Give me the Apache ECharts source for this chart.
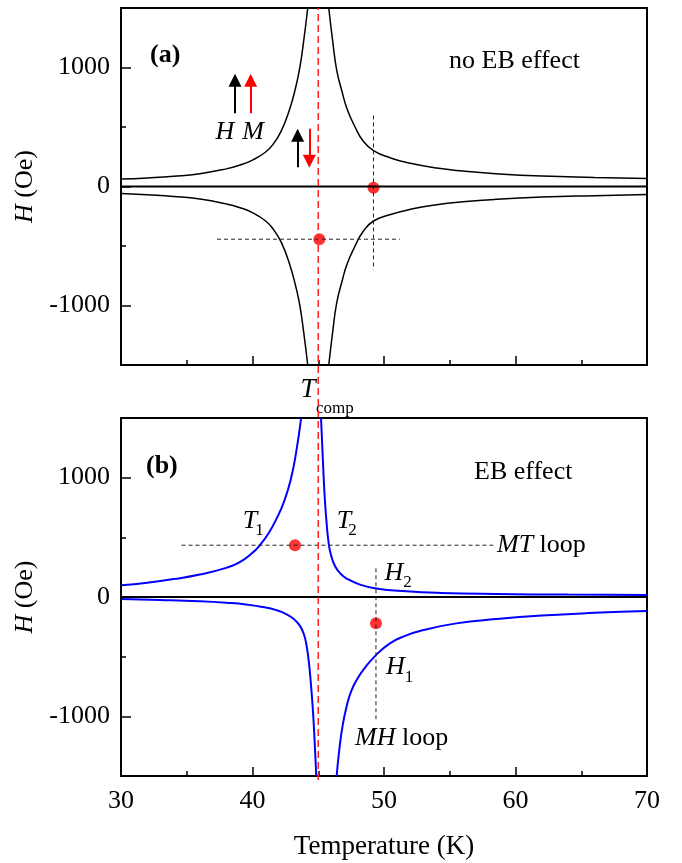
<!DOCTYPE html>
<html>
<head>
<meta charset="utf-8">
<script src="https://cdn.jsdelivr.net/npm/echarts@6/dist/echarts.min.js"></script>
<style>
  html, body { margin: 0; padding: 0; background: #fff; }
  #chart { width: 682px; height: 863px; }
</style>
</head>
<body>
<div id="chart"></div>
<script>
const xTicks = [30, 40, 50, 60, 70]
const yTicks = [-1000, 0, 1000]
const yMinorTicks = [-500, 500]
const tComp = 45

// (a) no EB effect, black curves [T, H]
const upperLeftA = [[30, 62], [32, 72], [34, 86], [36, 108], [38, 148], [39, 178], [40, 222], [41, 290], [41.6, 360], [42.2, 470], [42.8, 640], [43.3, 840], [43.6, 1000], [43.9, 1230], [44.2, 1500]]
const upperRightA = [[45.8, 1500], [46.1, 1220], [46.4, 980], [46.8, 800], [47.2, 650], [47.8, 500], [48.4, 385], [49.2, 302], [50.5, 240], [52, 195], [54, 155], [56, 130], [58.5, 108], [62, 88], [66, 76], [70, 67]]
const lowerLeftA = [[30, -58], [32, -70], [34, -84], [36, -106], [38, -146], [39, -176], [40, -220], [41, -290], [41.6, -362], [42.2, -472], [42.8, -645], [43.3, -845], [43.6, -1000], [43.9, -1230], [44.2, -1500]]
const lowerRightA = [[45.8, -1500], [46.1, -1220], [46.4, -980], [46.8, -800], [47.2, -650], [47.8, -500], [48.4, -380], [49.2, -290], [50.5, -235], [52, -192], [54, -154], [56, -129], [58.5, -108], [62, -89], [66, -77], [70, -68]]
const dotsA = [[49.2, -10], [45.08, -443]]
const vDashA = [[49.2, 597], [49.2, -700]]
const hDashA = [[37.3, -443], [51.2, -443]]
const blackArrowsA = [[38.67, 616, 947], [43.43, 162, 485]]
const redArrowsA = [[39.86, 616, 947], [44.32, 485, 157]]

// (b) EB effect, blue curves [T, H]
const upperLeftB = [[30, 98], [32, 120], [34, 150], [36, 188], [38, 244], [39, 290], [40, 370], [40.6, 440], [41.2, 530], [41.8, 650], [42.4, 800], [42.9, 980], [43.3, 1200], [43.7, 1500]]
const upperRightB = [[45.21, 1500], [45.3, 1280], [45.4, 1030], [45.5, 820], [45.62, 640], [45.77, 470], [45.95, 360], [46.27, 260], [46.7, 195], [47.16, 155], [48.17, 104], [49.39, 72], [51.7, 48], [54.3, 34], [58.5, 25], [64, 20], [70, 17]]
const lowerLeftB = [[30, -17], [33, -25], [36, -36], [38, -48], [39.5, -62], [40.8, -84], [41.8, -110], [42.6, -145], [43.2, -190], [43.6, -240], [43.9, -310], [44.1, -400], [44.3, -560], [44.45, -740], [44.6, -960], [44.72, -1200], [44.85, -1500]]
const lowerRightB = [[46.4, -1500], [46.6, -1280], [46.85, -1080], [47.15, -920], [47.5, -790], [48, -680], [48.5, -600], [49.39, -487], [50.45, -389], [51.5, -330], [53, -277], [55.5, -221], [58.5, -185], [62, -155], [66, -133], [70, -118]]
const dotsB = [[43.23, 434], [49.39, -221]]
const hDashB = [[34.6, 434], [58.3, 434]]
const vDashB = [[49.39, 241], [49.39, -1048]]

const zeroLine = [[30, 0], [70, 0]]
const compLine = [[tComp, 0], [tComp, 1]]

const font = '"Liberation Serif", "Times New Roman", serif'
const chart = echarts.init(document.getElementById('chart'))

const grids = [
  { left: 121, top: 8, width: 526, height: 357 },
  { left: 121, top: 418, width: 526, height: 358 },
  { left: 121, top: 8, width: 526, height: 772 }
]

const frameLine = { onZero: false, lineStyle: { color: '#000', width: 2 } }
const plain = v => String(v)

const makeX = (gi, showLabels) => ([
  {
    type: 'value', gridIndex: gi, min: 30, max: 70, interval: 10, position: 'bottom',
    axisLine: frameLine,
    axisTick: { inside: true, length: 9, lineStyle: { color: '#000', width: 1.5 } },
    minorTick: { show: true, splitNumber: 2, length: 5, lineStyle: { color: '#000', width: 1.5 } },
    axisLabel: { show: showLabels, margin: 12, fontSize: 26, fontFamily: font, color: '#000', customValues: xTicks, formatter: plain },
    splitLine: { show: false },
    name: showLabels ? 'Temperature (K)' : '',
    nameLocation: 'middle', nameGap: 57,
    nameTextStyle: { fontSize: 27, fontFamily: font, color: '#000' }
  },
  {
    type: 'value', gridIndex: gi, min: 30, max: 70, position: 'top',
    axisLine: frameLine, axisTick: { show: false }, axisLabel: { show: false }, splitLine: { show: false }
  }
])

const makeY = (gi) => ([
  {
    type: 'value', gridIndex: gi, min: -1500, max: 1500, interval: 500, position: 'left',
    axisLine: frameLine,
    axisTick: { inside: true, length: 10, customValues: yTicks, lineStyle: { color: '#000', width: 1.5 } },
    axisLabel: { margin: 11, fontSize: 26, fontFamily: font, color: '#000', customValues: yTicks, formatter: plain },
    splitLine: { show: false },
    name: '{i|H} (Oe)', nameLocation: 'middle', nameGap: 70,
    nameTextStyle: {
      fontSize: 26, fontFamily: font, color: '#000',
      rich: { i: { fontStyle: 'italic', fontSize: 26, fontFamily: font, color: '#000' } }
    }
  },
  {
    type: 'value', gridIndex: gi, min: -1500, max: 1500, position: 'right',
    axisLine: frameLine, axisTick: { show: false }, axisLabel: { show: false }, splitLine: { show: false }
  },
  {
    type: 'value', gridIndex: gi, min: -1500, max: 1500, interval: 500, position: 'left',
    axisLine: { show: false, onZero: false },
    axisTick: { inside: true, length: 5, customValues: yMinorTicks, lineStyle: { color: '#000', width: 1.5 } },
    axisLabel: { show: false }, splitLine: { show: false }
  }
])

const curve = (data, xi, yi, color, width) => ({
  type: 'line', data, xAxisIndex: xi, yAxisIndex: yi,
  showSymbol: false, symbol: 'none', smooth: 0.5, silent: true,
  lineStyle: { color, width }
})

const dashed = (data, xi, yi) => ({
  type: 'line', data, xAxisIndex: xi, yAxisIndex: yi,
  showSymbol: false, symbol: 'none', silent: true,
  lineStyle: { color: '#222', width: 1, type: [4, 3] }
})

const dots = (data, xi, yi) => ({
  type: 'scatter', data, xAxisIndex: xi, yAxisIndex: yi,
  symbol: 'circle', symbolSize: 12, silent: true,
  itemStyle: { color: '#ff0000' }
})

// arrow head sits centred on the end point, so pull the line end back half a head
const headSize = 13
const headBack = headSize / 2 * 3000 / 357
const arrowPairs = (list, color) => list.map(([t, from, to]) => {
  const dir = to > from ? 1 : -1
  return [
    { coord: [t, from], lineStyle: { color, width: 2 } },
    { coord: [t, to - dir * headBack] }
  ]
})

const option = {
  animation: false,
  backgroundColor: '#fff',
  textStyle: { fontFamily: font },
  grid: grids,
  xAxis: [
    ...makeX(0, false),
    ...makeX(1, true),
    { type: 'value', gridIndex: 2, min: 30, max: 70, show: false }
  ],
  yAxis: [
    ...makeY(0),
    ...makeY(1),
    { type: 'value', gridIndex: 2, min: 0, max: 1, show: false }
  ],
  series: [
    curve(zeroLine, 0, 0, '#000', 2),
    curve(upperLeftA, 0, 0, '#000', 1.5),
    curve(upperRightA, 0, 0, '#000', 1.5),
    curve(lowerLeftA, 0, 0, '#000', 1.5),
    curve(lowerRightA, 0, 0, '#000', 1.5),
    dashed(vDashA, 0, 0),
    dashed(hDashA, 0, 0),
    {
      type: 'line', data: [], xAxisIndex: 0, yAxisIndex: 0, silent: true,
      markLine: {
        silent: true, animation: false,
        symbol: ['none', 'triangle'], symbolSize: headSize,
        label: { show: false },
        lineStyle: { type: 'solid', width: 2 },
        data: [...arrowPairs(blackArrowsA, '#000'), ...arrowPairs(redArrowsA, '#ff0000')]
      }
    },

    curve(zeroLine, 2, 3, '#000', 2),
    curve(upperLeftB, 2, 3, '#0000ff', 2),
    curve(upperRightB, 2, 3, '#0000ff', 2),
    curve(lowerLeftB, 2, 3, '#0000ff', 2),
    curve(lowerRightB, 2, 3, '#0000ff', 2),
    dashed(hDashB, 2, 3),
    dashed(vDashB, 2, 3),

    {
      type: 'line', data: compLine, xAxisIndex: 4, yAxisIndex: 6,
      showSymbol: false, symbol: 'none', silent: true,
      lineStyle: { color: '#ff2020', width: 1.5, type: [7, 4] }
    },
    dots(dotsA, 0, 0),
    dots(dotsB, 2, 3)
  ]
}

const txt = (text, x, y, opts = {}) => ({
  type: 'text', x, y, silent: true,
  style: {
    text,
    fontSize: opts.size || 26,
    fontFamily: font,
    fontStyle: opts.italic ? 'italic' : 'normal',
    fontWeight: opts.bold ? 'bold' : 'normal',
    fill: '#000',
    textAlign: opts.align || 'left',
    textVerticalAlign: 'middle',
    rich: opts.rich
  }
})

const italicRich = { i: { fontStyle: 'italic', fontSize: 26, fontFamily: font } }

option.graphic = [
  txt('(a)', 150, 55, { bold: true }),
  txt('no EB effect', 449, 61),
  txt('H', 225, 132, { italic: true, align: 'center' }),
  txt('M', 253, 132, { italic: true, align: 'center' }),
  txt('T', 308, 390, { italic: true, align: 'center', size: 27 }),
  txt('comp', 316, 409, { size: 17 }),

  txt('(b)', 146, 466, { bold: true }),
  txt('EB effect', 474, 472),
  txt('T', 250, 521, { italic: true, align: 'center' }),
  txt('1', 259.5, 531, { align: 'center', size: 17 }),
  txt('T', 344, 521, { italic: true, align: 'center' }),
  txt('2', 352.5, 531, { align: 'center', size: 17 }),
  txt('H', 394, 573, { italic: true, align: 'center' }),
  txt('2', 407.5, 583, { align: 'center', size: 17 }),
  txt('H', 395.5, 667, { italic: true, align: 'center' }),
  txt('1', 409, 678, { align: 'center', size: 17 }),
  txt('{i|MT} loop', 497, 545, { rich: italicRich }),
  txt('{i|MH} loop', 355, 738, { rich: italicRich })
]

chart.setOption(option)
</script>
</body>
</html>
